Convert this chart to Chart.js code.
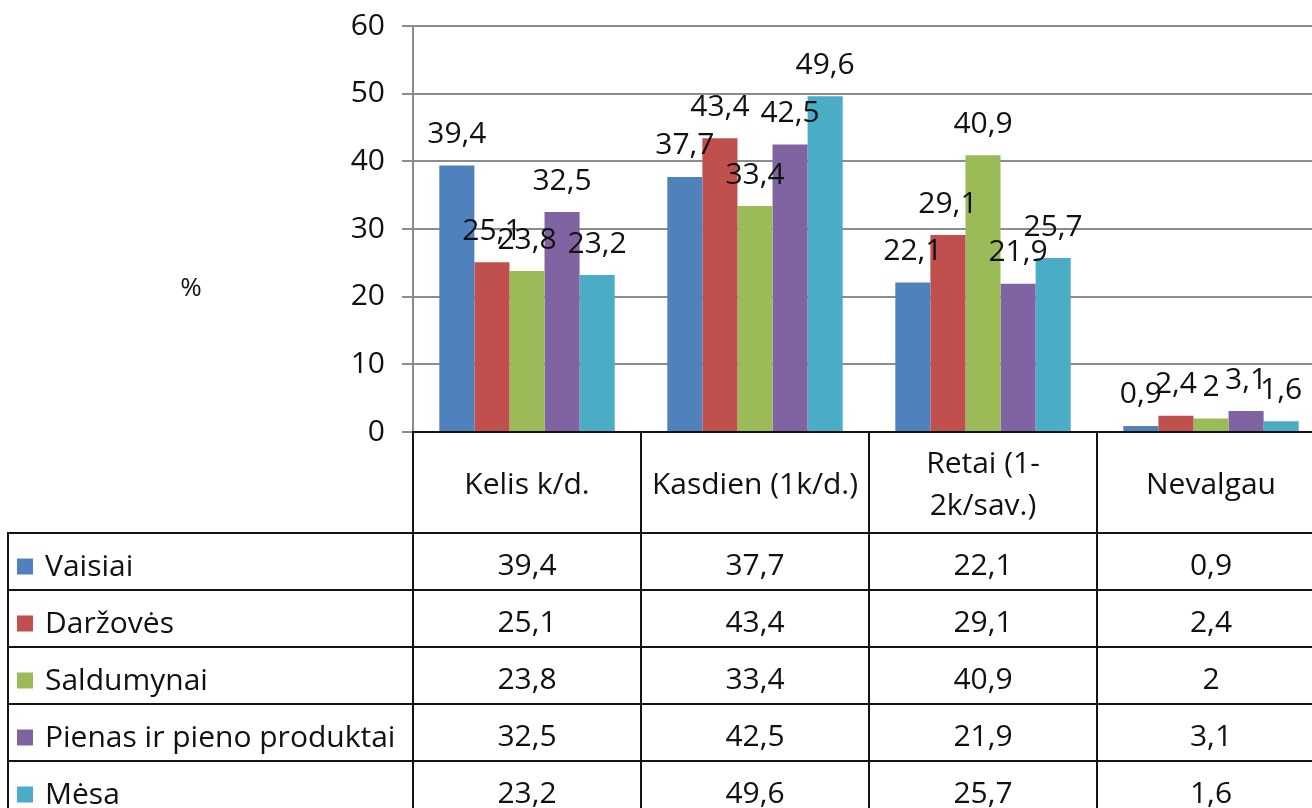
<!DOCTYPE html>
<html>
<head>
<meta charset="utf-8">
<script src="https://cdn.jsdelivr.net/npm/chart.js@4.4.1/dist/chart.umd.min.js"></script>
<style>
html,body{margin:0;padding:0;background:#fff;overflow:hidden;width:1312px;height:808px;}
#wrap{position:absolute;left:0;top:0;width:1340px;height:830px;}
</style>
</head>
<body>
<div id="wrap"><canvas id="c" width="1340" height="830"></canvas></div>
<script>
// ---- data ----
const categories = ['Kelis k/d.', 'Kasdien (1k/d.)', ['Retai (1-', '2k/sav.)'], 'Nevalgau'];
const seriesNames = ['Vaisiai', 'Daržovės', 'Saldumynai', 'Pienas ir pieno produktai', 'Mėsa'];
const vaisiai = [39.4, 37.7, 22.1, 0.9];
const darzoves = [25.1, 43.4, 29.1, 2.4];
const saldumynai = [23.8, 33.4, 40.9, 2];
const pienas = [32.5, 42.5, 21.9, 3.1];
const mesa = [23.2, 49.6, 25.7, 1.6];
const yTicks = [0, 10, 20, 30, 40, 50, 60];
const yAxisTitle = '%';

const colors = ['#4F81BD', '#C0504D', '#9BBB59', '#8064A2', '#4BACC6'];
const seriesValues = [vaisiai, darzoves, saldumynai, pienas, mesa];

const FONT = '"Open Sans"';
const FS = 30;
const TEXT = '#111111';
const HEADER_H = 101;
const ROW_H = 57;
const LEGEND_LEFT = 8;
const PLOT_TOP = 26;

function fmt(v) { return String(v).replace('.', ','); }

const tablePlugin = {
  id: 'tablePlugin',
  afterDraw(chart) {
    const ctx = chart.ctx;
    const ca = chart.chartArea;
    const xs = chart.scales.x;
    const n = categories.length;
    const w = (xs.right - xs.left) / n;
    const top = ca.bottom;
    const headBottom = top + HEADER_H;
    const bottom = headBottom + ROW_H * seriesNames.length;
    ctx.save();

    // data labels above bars
    ctx.font = FS + 'px ' + FONT;
    ctx.fillStyle = TEXT;
    ctx.textAlign = 'center';
    ctx.textBaseline = 'middle';
    chart.data.datasets.forEach((ds, di) => {
      const meta = chart.getDatasetMeta(di);
      meta.data.forEach((el, i) => {
        ctx.fillText(fmt(ds.data[i]), el.x, el.y - 31);
      });
    });

    // table lines
    ctx.strokeStyle = '#141414';
    ctx.lineWidth = 2;
    ctx.beginPath();
    for (let k = 0; k <= n; k++) {
      const x = Math.round(xs.left + k * w);
      ctx.moveTo(x, top);
      ctx.lineTo(x, bottom);
    }
    ctx.moveTo(LEGEND_LEFT, headBottom);
    ctx.lineTo(LEGEND_LEFT, bottom);
    ctx.moveTo(xs.left - 1, top);
    ctx.lineTo(xs.right, top);
    for (let r = 0; r <= seriesNames.length; r++) {
      const y = headBottom + r * ROW_H;
      ctx.moveTo(LEGEND_LEFT - 1, y);
      ctx.lineTo(xs.right, y);
    }
    ctx.stroke();

    // legend keys and names
    seriesNames.forEach((name, r) => {
      const cy = headBottom + r * ROW_H + ROW_H / 2 + 6;
      ctx.fillStyle = colors[r];
      ctx.fillRect(17, cy - 9, 16, 16);
      ctx.fillStyle = TEXT;
      ctx.textAlign = 'left';
      ctx.fillText(name, 45, cy);
      ctx.textAlign = 'center';
      seriesValues[r].forEach((v, i) => {
        ctx.fillText(fmt(v), xs.getPixelForValue(i), cy - 1);
      });
    });

    // axis title
    ctx.font = (FS - 4) + 'px ' + FONT;
    ctx.textAlign = 'center';
    ctx.fillText(yAxisTitle, ca.left - 222, ca.top + 263);
    ctx.restore();
  }
};

new Chart(document.getElementById('c'), {
  type: 'bar',
  data: {
    labels: categories,
    datasets: seriesNames.map((name, i) => ({
      label: name,
      data: seriesValues[i],
      backgroundColor: colors[i],
      borderWidth: 0,
      barPercentage: 1,
      categoryPercentage: 5 / 6.5
    }))
  },
  options: {
    responsive: false,
    devicePixelRatio: 1,
    animation: false,
    events: [],
    layout: { padding: { left: 0, top: 0, right: 15, bottom: 12 } },
    plugins: { legend: { display: false }, tooltip: { enabled: false } },
    scales: {
      x: {
        grid: { display: false, drawTicks: false },
        border: { display: false },
        ticks: {
          font: { family: FONT, size: FS, lineHeight: 42 / FS },
          color: TEXT,
          padding: 32,
          crossAlign: 'center',
          maxRotation: 0,
          autoSkip: false
        },
        afterFit(scale) { scale.height = HEADER_H + ROW_H * seriesNames.length; }
      },
      y: {
        min: yTicks[0],
        max: yTicks[yTicks.length - 1],
        afterBuildTicks(scale) { scale.ticks = yTicks.map(v => ({ value: v })); },
        grid: { color: '#8c8c8c', lineWidth: 2, tickLength: 11, drawTicks: true },
        border: { display: true, color: '#8c8c8c', width: 2 },
        ticks: {
          font: { family: FONT, size: FS },
          color: TEXT,
          padding: 17
        },
        afterFit(scale) { scale.width = 413; scale.paddingTop = PLOT_TOP; }
      }
    }
  },
  plugins: [tablePlugin]
});
</script>
</body>
</html>
